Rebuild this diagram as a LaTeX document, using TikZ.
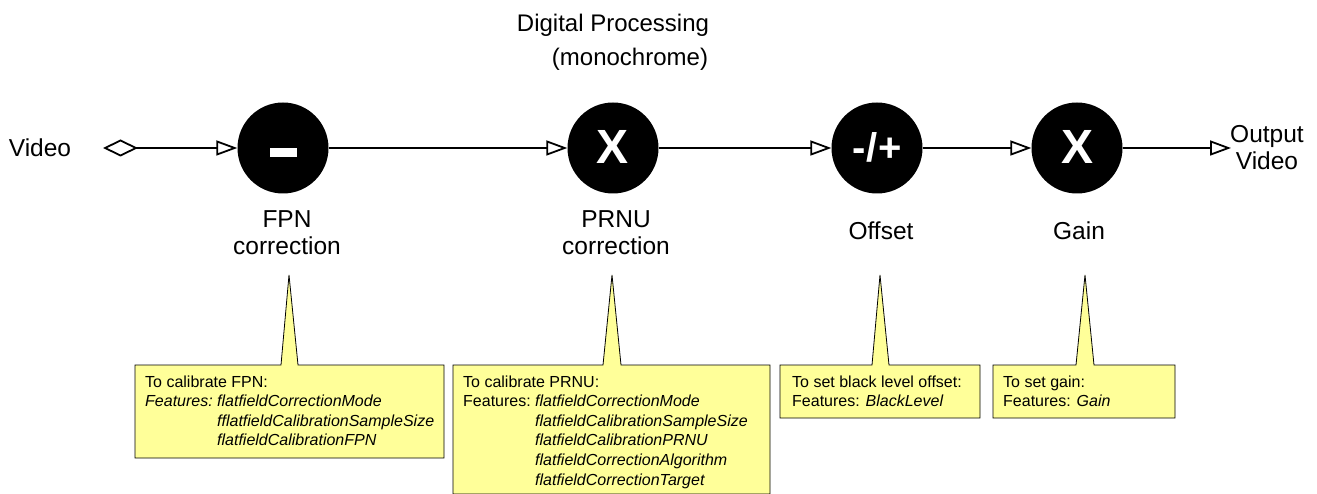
\documentclass[tikz,border=0pt]{standalone}
\usepackage{fontspec}
\setmainfont{Liberation Sans}
\usetikzlibrary{arrows.meta}
\definecolor{noteyellow}{HTML}{FFFF99}
\newcommand{\featlbl}[1]{\makebox[72pt][l]{#1}}
\begin{document}
\begin{tikzpicture}[x=1pt,y=-1pt,
  proc/.style={circle,fill=black,minimum size=91pt,inner sep=0pt,text=white,font=\fontsize{48}{48}\selectfont\bfseries},
  lbl/.style={font=\fontsize{24.5}{27}\selectfont,inner sep=0pt,anchor=base},
  flow/.style={line width=1.8pt,-{Triangle[open,length=21pt,width=15pt,line width=1.8pt]}},
  note/.style={draw=black,line width=0.8pt,fill=noteyellow},
  notetext/.style={anchor=base west,inner sep=0pt,font=\fontsize{16}{19.6}\selectfont}]
\useasboundingbox (0,0) rectangle (1317,494);
% title
\node[lbl,font=\fontsize{24}{27}\selectfont] (title) at (613,32) {Digital Processing};
\node[lbl,font=\fontsize{24}{27}\selectfont] (mono) at (630,66) {(monochrome)};
% processing nodes
\node[proc] (fpn) at (283,148) {};
\fill[white] (270,148) rectangle (297,157);
\node[proc] (prnu) at (613,148) {\raisebox{2.5pt}{X}};
\node[proc,font=\fontsize{40}{40}\selectfont\bfseries] (off) at (877,148) {\raisebox{1pt}{-\kern1pt/\kern1pt+}};
\node[proc] (gain) at (1077,148) {\raisebox{2.5pt}{X}};
% in/out
\node[lbl] (video) at (40,157) {Video};
\coordinate (vstart) at (103,148);
\node[lbl] (outv) at (1267,143) {\begin{tabular}[t]{@{}c@{}}Output\\Video\end{tabular}};
\coordinate (vend) at (1231,148);
% connectors
\draw[flow,{Diamond[open,length=35pt,width=17pt,line width=1.8pt]}-{Triangle[open,length=21pt,width=15pt,line width=1.8pt]}] (vstart) -- (fpn);
\draw[flow] (fpn) -- (prnu);
\draw[flow] (prnu) -- (off);
\draw[flow] (off) -- (gain);
\draw[flow] (gain) -- (vend);
% labels
\node[lbl] (lfpn) at (287,228) {\begin{tabular}[t]{@{}c@{}}FPN\\correction\end{tabular}};
\node[lbl] (lprnu) at (616,228) {\begin{tabular}[t]{@{}c@{}}PRNU\\correction\end{tabular}};
\node[lbl] (loff) at (881,240) {Offset};
\node[lbl] (lgain) at (1079,240) {Gain};
% callouts
\draw[note] (135,365) -- (281,365) -- (289,275) -- (298,365) -- (444,365) -- (444,458) -- (135,458) -- cycle;
\draw[note] (453,365) -- (603,365) -- (612,275) -- (621,365) -- (770,365) -- (770,494) -- (453,494) -- cycle;
\draw[note] (780,365) -- (872,365) -- (880,275) -- (889,365) -- (980,365) -- (980,418) -- (780,418) -- cycle;
\draw[note] (993,365) -- (1076,365) -- (1085,275) -- (1094,365) -- (1175,365) -- (1175,418) -- (993,418) -- cycle;
\node[notetext] (tfpn) at (145,387) {\begin{tabular}[t]{@{}l@{}}
To calibrate FPN:\\
\itshape\featlbl{Features:}flatfieldCorrectionMode\\
\itshape\featlbl{}fflatfieldCalibrationSampleSize\\
\itshape\featlbl{}flatfieldCalibrationFPN
\end{tabular}};
\node[notetext] (tprnu) at (463,387) {\begin{tabular}[t]{@{}l@{}}
To calibrate PRNU:\\
\featlbl{Features:}\itshape flatfieldCorrectionMode\\
\featlbl{}\itshape flatfieldCalibrationSampleSize\\
\featlbl{}\itshape flatfieldCalibrationPRNU\\
\featlbl{}\itshape flatfieldCorrectionAlgorithm\\
\featlbl{}\itshape flatfieldCorrectionTarget
\end{tabular}};
\node[notetext] (toff) at (792,387) {\begin{tabular}[t]{@{}l@{}}
To set black level offset:\\
Features: \itshape BlackLevel
\end{tabular}};
\node[notetext] (tgain) at (1003,387) {\begin{tabular}[t]{@{}l@{}}
To set gain:\\
Features: \itshape Gain
\end{tabular}};
\end{tikzpicture}
\end{document}
